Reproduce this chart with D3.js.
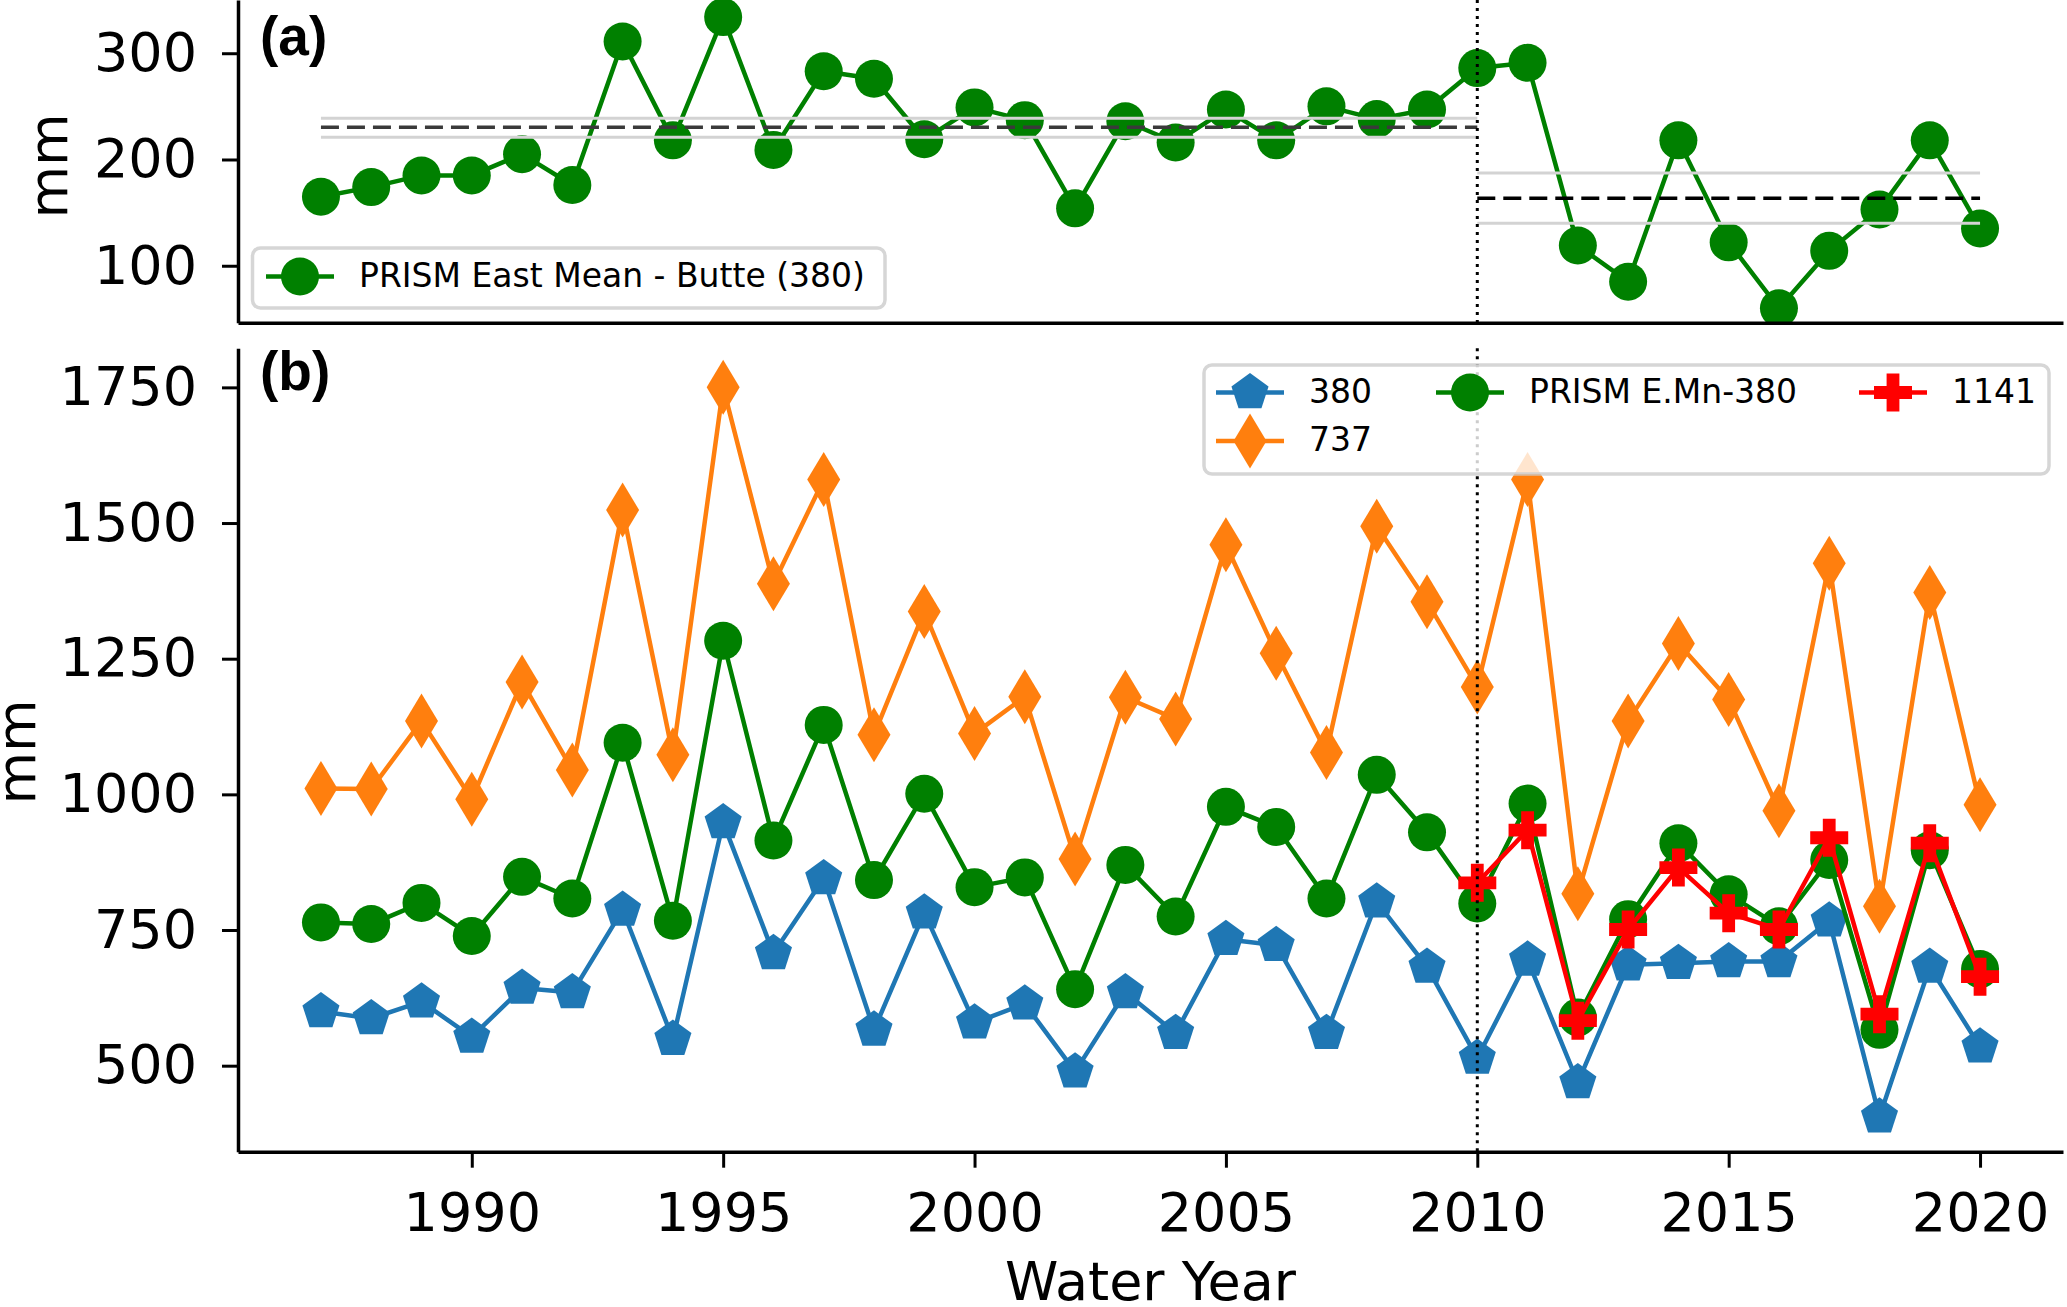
<!DOCTYPE html>
<html>
<head>
<meta charset="utf-8">
<script src="https://cdn.jsdelivr.net/npm/d3@7"></script>
<style>
  body { margin: 0; background: #fff; }
  svg { display: block; }
</style>
</head>
<body>
<svg id="chart"></svg>
<script>
// ---- data ----
const years = [1987, 1988, 1989, 1990, 1991, 1992, 1993, 1994, 1995, 1996, 1997, 1998,
  1999, 2000, 2001, 2002, 2003, 2004, 2005, 2006, 2007, 2008, 2009, 2010, 2011, 2012,
  2013, 2014, 2015, 2016, 2017, 2018, 2019, 2020];

// panel (a)
const prismTop = [165, 174, 185, 185, 205, 176, 311, 218, 334, 209, 283, 276, 219, 249,
  237, 154, 236, 216, 247, 218, 250, 238, 247, 286, 291, 119, 85, 218, 122, 60, 114, 153,
  218, 135];
const periodStart = [1987, 2010];
const periodEnd = [2010, 2020];
const periodMean = [230.4, 163.6];
const periodLow = [221, 140];
const periodHigh = [238.9, 187.4];

// panel (b)
const s380 = [600, 587, 618, 553, 643, 635, 787, 549, 948, 707, 845, 566, 782, 579, 614,
  489, 635, 560, 733, 722, 560, 802, 682, 514, 695, 469, 686, 689, 692, 692, 767, 406,
  682, 535];
const s737 = [1011, 1010, 1135, 991, 1207, 1045, 1524, 1073, 1750, 1388, 1580, 1110, 1337,
  1112, 1180, 881, 1179, 1139, 1460, 1260, 1077, 1494, 1355, 1198, 1580, 817, 1135, 1278,
  1175, 970, 1426, 794, 1372, 981];
const prismBottom = [764, 761, 800, 739, 848, 808, 1095, 767, 1283, 915, 1128, 842, 1001,
  829, 847, 641, 870, 775, 977, 940, 808, 1036, 930, 799, 983, 589, 770, 910, 816, 757,
  879, 566, 897, 678];
const years1141 = [2010, 2011, 2012, 2013, 2014, 2015, 2016, 2017, 2018, 2019, 2020];
const s1141 = [837, 934, 583, 751, 865, 781, 751, 920, 595, 910, 664];

const xTicks = [1990, 1995, 2000, 2005, 2010, 2015, 2020];
const yTicksTop = [100, 200, 300];
const yTicksBottom = [500, 750, 1000, 1250, 1500, 1750];
const splitYear = 2010;

// ---- layout ----
const w = 2067;
const h = 1307;
const xLeft = 238, xRight = 2063;
const topY0 = 0, topY1 = 322.7;
const botY0 = 348.3, botY1 = 1151.7;
const tickFont = 54;
const legendFont = 33;

const svg = d3.select('#chart')
  .attr('width', w)
  .attr('height', h)
  .style('font-family', '"DejaVu Sans", sans-serif');

const x = d3.scaleLinear().domain([1985.35, 2021.65]).range([xLeft, xRight]);
const yTop = d3.scaleLinear().domain([46.4, 350.1]).range([topY1, topY0]);
const yBot = d3.scaleLinear().domain([341.5, 1822]).range([botY1, botY0]);

// marker shapes, centred on 0,0
const markers = {
  circle: () => d3.symbol(d3.symbolCircle, Math.PI * 19 * 19)(),
  pentagon: () => {
    const R = 19.5;
    const pts = d3.range(5).map(k => {
      const a = -Math.PI / 2 + k * 2 * Math.PI / 5;
      return [R * Math.cos(a), R * Math.sin(a)];
    });
    return 'M' + pts.map(p => p.join(',')).join('L') + 'Z';
  },
  diamond: () => 'M0,-27.5L16.5,0L0,27.5L-16.5,0Z',
  plus: () => {
    const a = 19, b = 6.4;
    return `M${-b},${-a}H${b}V${-b}H${a}V${b}H${b}V${a}H${-b}V${b}H${-a}V${-b}H${-b}Z`;
  }
};

const defs = svg.append('defs');
defs.append('clipPath').attr('id', 'clipTop')
  .append('rect').attr('x', xLeft).attr('y', topY0)
  .attr('width', xRight - xLeft).attr('height', topY1 - topY0);
defs.append('clipPath').attr('id', 'clipBot')
  .append('rect').attr('x', xLeft).attr('y', botY0)
  .attr('width', xRight - xLeft).attr('height', botY1 - botY0);

const drawSeries = (g, xs, ys, yScale, color, shape) => {
  const pts = xs.map((d, i) => [d, ys[i]]);
  g.append('path')
    .datum(pts)
    .attr('fill', 'none')
    .attr('stroke', color)
    .attr('stroke-width', 4.5)
    .attr('stroke-linejoin', 'round')
    .attr('d', d3.line().x(d => x(d[0])).y(d => yScale(d[1])));
  g.selectAll(null)
    .data(pts)
    .enter()
    .append('path')
    .attr('transform', d => `translate(${x(d[0])},${yScale(d[1])})`)
    .attr('d', markers[shape]())
    .attr('fill', color);
};

const styleAxis = (g) => {
  g.attr('font-size', tickFont).attr('font-family', '"DejaVu Sans", sans-serif');
  g.select('.domain').attr('stroke-width', 3.5);
  g.selectAll('.tick line').attr('stroke-width', 3);
  g.selectAll('.tick text').attr('fill', '#000');
};

const legendEntry = (g, cx, cy, color, shape, label) => {
  g.append('line')
    .attr('x1', cx - 34).attr('x2', cx + 34)
    .attr('y1', cy).attr('y2', cy)
    .attr('stroke', color).attr('stroke-width', 4.5);
  g.append('path')
    .attr('transform', `translate(${cx},${cy})`)
    .attr('d', markers[shape]())
    .attr('fill', color);
  g.append('text')
    .attr('x', cx + 59).attr('y', cy + 10)
    .attr('font-size', legendFont)
    .text(label);
};

// ---- panel (a) ----
const gTop = svg.append('g');
const topData = gTop.append('g').attr('clip-path', 'url(#clipTop)');
drawSeries(topData, years, prismTop, yTop, 'green', 'circle');

periodStart.forEach((s, i) => {
  [periodLow[i], periodHigh[i]].forEach(v => {
    topData.append('line')
      .attr('x1', x(s)).attr('x2', x(periodEnd[i]))
      .attr('y1', yTop(v)).attr('y2', yTop(v))
      .attr('stroke', '#d3d3d3').attr('stroke-width', 3);
  });
  topData.append('line')
    .attr('x1', x(s)).attr('x2', x(periodEnd[i]))
    .attr('y1', yTop(periodMean[i])).attr('y2', yTop(periodMean[i]))
    .attr('stroke', i === 0 ? '#3a3a3a' : '#000')
    .attr('stroke-width', 3.5)
    .attr('stroke-dasharray', '18,8');
});

gTop.append('line')
  .attr('x1', x(splitYear)).attr('x2', x(splitYear))
  .attr('y1', topY0).attr('y2', topY1)
  .attr('stroke', '#000').attr('stroke-width', 3)
  .attr('stroke-dasharray', '3,5');

gTop.append('g')
  .attr('transform', `translate(${xLeft},0)`)
  .call(d3.axisLeft(yTop).tickValues(yTicksTop).tickFormat(d3.format('d'))
    .tickSize(16).tickPadding(25).tickSizeOuter(0))
  .call(styleAxis);
gTop.append('g')
  .attr('transform', `translate(0,${topY1})`)
  .call(d3.axisBottom(x).tickValues([]).tickSizeOuter(0))
  .call(styleAxis);

gTop.append('text')
  .attr('transform', 'translate(67,166) rotate(-90)')
  .attr('text-anchor', 'middle')
  .attr('font-size', tickFont)
  .text('mm');

gTop.append('text')
  .attr('x', 260).attr('y', 55)
  .attr('font-family', '"Liberation Sans", Arial, sans-serif')
  .attr('font-weight', 'bold')
  .attr('font-size', 55)
  .text('(a)');

const legTop = gTop.append('g');
legTop.append('rect')
  .attr('x', 252.5).attr('y', 248).attr('width', 632.5).attr('height', 60)
  .attr('rx', 8)
  .attr('fill', '#fff').attr('fill-opacity', 0.8)
  .attr('stroke', '#cccccc').attr('stroke-opacity', 0.8).attr('stroke-width', 3.5);
legendEntry(legTop, 300, 276.5, 'green', 'circle', 'PRISM East Mean - Butte (380)');

// ---- panel (b) ----
const gBot = svg.append('g');
const botData = gBot.append('g').attr('clip-path', 'url(#clipBot)');
drawSeries(botData, years, s380, yBot, '#1f77b4', 'pentagon');
drawSeries(botData, years, s737, yBot, '#ff7f0e', 'diamond');
drawSeries(botData, years, prismBottom, yBot, 'green', 'circle');
drawSeries(botData, years1141, s1141, yBot, 'red', 'plus');

gBot.append('line')
  .attr('x1', x(splitYear)).attr('x2', x(splitYear))
  .attr('y1', botY0).attr('y2', botY1)
  .attr('stroke', '#000').attr('stroke-width', 3)
  .attr('stroke-dasharray', '3,5');

gBot.append('g')
  .attr('transform', `translate(${xLeft},0)`)
  .call(d3.axisLeft(yBot).tickValues(yTicksBottom).tickFormat(d3.format('d'))
    .tickSize(16).tickPadding(25).tickSizeOuter(0))
  .call(styleAxis);
gBot.append('g')
  .attr('transform', `translate(0,${botY1})`)
  .call(d3.axisBottom(x).tickValues(xTicks).tickFormat(d3.format('d'))
    .tickSize(16).tickPadding(25).tickSizeOuter(0))
  .call(styleAxis);

gBot.append('text')
  .attr('transform', 'translate(35,752) rotate(-90)')
  .attr('text-anchor', 'middle')
  .attr('font-size', tickFont)
  .text('mm');

gBot.append('text')
  .attr('x', (xLeft + xRight) / 2).attr('y', 1300)
  .attr('text-anchor', 'middle')
  .attr('font-size', tickFont)
  .text('Water Year');

gBot.append('text')
  .attr('x', 260).attr('y', 390)
  .attr('font-family', '"Liberation Sans", Arial, sans-serif')
  .attr('font-weight', 'bold')
  .attr('font-size', 55)
  .text('(b)');

const legBot = gBot.append('g');
legBot.append('rect')
  .attr('x', 1204).attr('y', 365).attr('width', 845).attr('height', 109)
  .attr('rx', 8)
  .attr('fill', '#fff').attr('fill-opacity', 0.8)
  .attr('stroke', '#cccccc').attr('stroke-opacity', 0.8).attr('stroke-width', 3.5);
legendEntry(legBot, 1250, 392.5, '#1f77b4', 'pentagon', '380');
legendEntry(legBot, 1250, 441, '#ff7f0e', 'diamond', '737');
legendEntry(legBot, 1470, 392.5, 'green', 'circle', 'PRISM E.Mn-380');
legendEntry(legBot, 1893, 392.5, 'red', 'plus', '1141');
</script>
</body>
</html>
